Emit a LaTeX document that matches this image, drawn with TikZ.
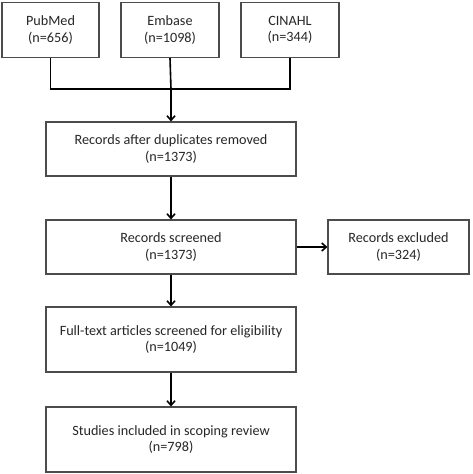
\documentclass[tikz,border=0pt]{standalone}
\usepackage{fontspec}
\setmainfont{Carlito}
\usetikzlibrary{arrows.meta}
\begin{document}
\begin{tikzpicture}[x=1pt, y=-1pt,
    every node/.style={font=\fontsize{14.2}{16.5}\selectfont, text=black!85, align=center},
    box/.style={draw=black!70, line width=1.1pt, inner sep=0pt},
    link/.style={line width=1.6pt, -{Straight Barb[length=4.5pt,width=8pt,line width=1.6pt]}}]
    \useasboundingbox (0,0) rectangle (472,474);

    % databases
    \node[box, minimum width=97pt, minimum height=55pt] (pubmed) at (50.5,30) {PubMed\\(n=656)};
    \node[box, minimum width=98pt, minimum height=55pt] (embase) at (170,30) {Embase\\(n=1098)};
    \node[box, minimum width=98pt, minimum height=55pt] (cinahl) at (290,30) {CINAHL\\(n=344)};
    \coordinate (merge) at (171,89);

    % main flow
    \node[box, minimum width=250pt, minimum height=54pt] (dedup) at (171,149) {Records after duplicates removed\\(n=1373)};
    \node[box, minimum width=250pt, minimum height=54pt] (screened) at (171,247) {Records screened\\(n=1373)};
    \node[box, minimum width=141pt, minimum height=54pt] (excluded) at (398.5,247) {Records excluded\\(n=324)};
    \node[box, minimum width=250pt, minimum height=65pt] (fulltext) at (171,339.5) {Full-text articles screened for eligibility\\(n=1049)};
    \node[box, minimum width=250pt, minimum height=65pt] (included) at (171,439.5) {Studies included in scoping review\\(n=798)};

    \draw[line width=1.6pt] (pubmed.south) |- (merge) -| (cinahl.south);
    \draw[line width=1.6pt] (embase.south) -- (merge);
    \draw[link] (merge) -- (dedup.north);
    \draw[link] (dedup.south) -- (screened.north);
    \draw[link] (screened.east) -- (excluded.west);
    \draw[link] (screened.south) -- (fulltext.north);
    \draw[link] (fulltext.south) -- (included.north);
\end{tikzpicture}
\end{document}
